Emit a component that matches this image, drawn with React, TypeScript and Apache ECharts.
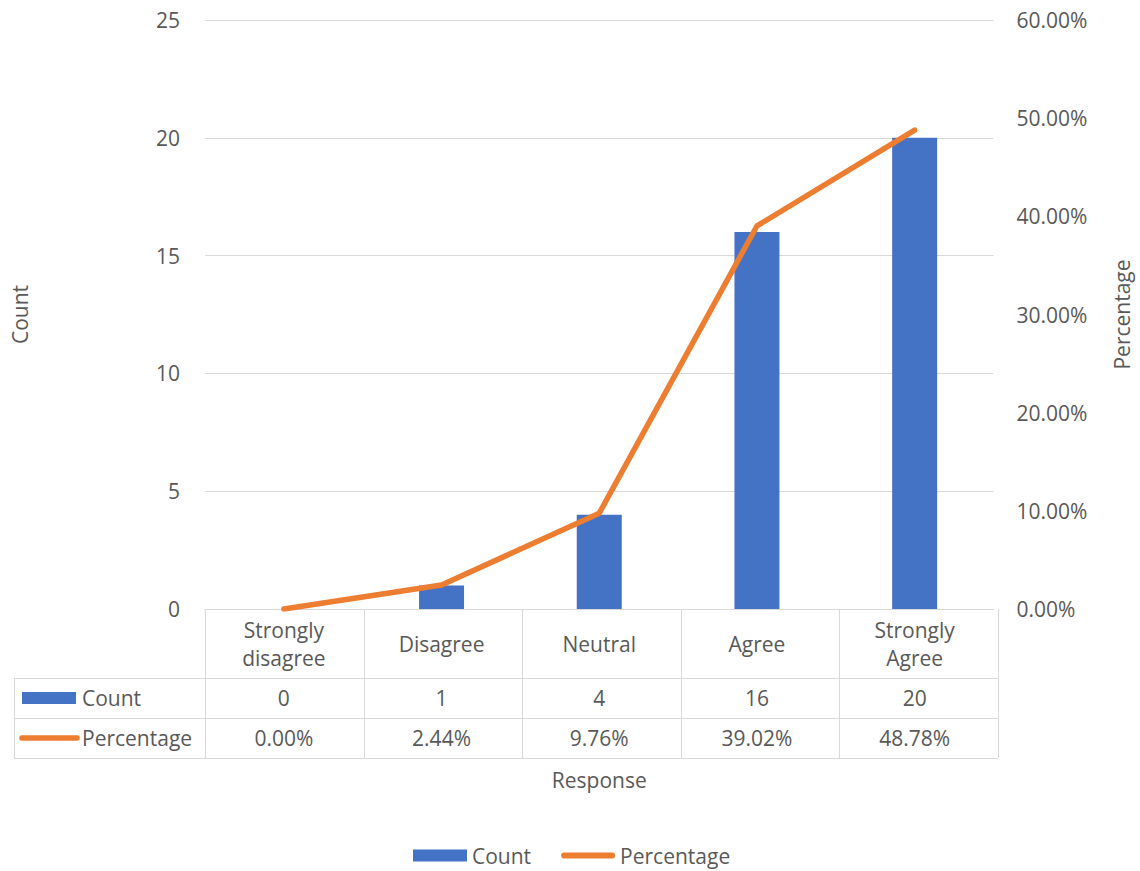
import React, { useEffect, useRef } from "react";
import * as echarts from "echarts";

// Survey responses
const categories = ["Strongly disagree", "Disagree", "Neutral", "Agree", "Strongly Agree"];
const counts = [0, 1, 4, 16, 20];
const percentages = [0.0, 2.44, 9.76, 39.02, 48.78];

const countTicks = { min: 0, max: 25, interval: 5 };
const pctTicks = { min: 0, max: 0.6, interval: 0.1 };

const BLUE = "#4472C4";
const ORANGE = "#ED7D31";
const GRID_LINE = "#d9d9d9";
const TEXT = "#595959";
const FONT = "Open Sans";
const FS = 21;

const W = 1140;
const H = 871;
const PLOT_LEFT = 205;
const PLOT_RIGHT = 998;
const PLOT_TOP = 20;
const PLOT_BOTTOM = 609;
const TABLE_LEFT = 14;
const ROW_COUNT = 678;
const ROW_PCT = 718;
const TABLE_BOTTOM = 758;

// thick line with rounded ends, used as the legend key of the line series
const LINE_KEY = "path://M3,0 L51,0 A3,3 0 0 1 51,6 L3,6 A3,3 0 0 1 3,0 Z";

const wrapLabel = (v: string) => v.replace("Strongly ", "Strongly\n");
const fmtPct = (v: number) => `${v.toFixed(2)}%`;

export default function App() {
  const ref = useRef<HTMLDivElement>(null);

  useEffect(() => {
    document.body.style.margin = "0";
    if (!ref.current) return;
    const chart = echarts.init(ref.current, null, { renderer: "svg" });

    const step = (PLOT_RIGHT - PLOT_LEFT) / categories.length;
    const lineStyle = { stroke: GRID_LINE, lineWidth: 1 };
    const tableLines: any[] = [];
    [ROW_COUNT, ROW_PCT, TABLE_BOTTOM].forEach((y) => {
      tableLines.push({
        type: "line",
        shape: { x1: TABLE_LEFT, y1: y + 0.5, x2: PLOT_RIGHT, y2: y + 0.5 },
        style: lineStyle,
        silent: true,
      });
    });
    tableLines.push({
      type: "line",
      shape: { x1: TABLE_LEFT + 0.5, y1: ROW_COUNT, x2: TABLE_LEFT + 0.5, y2: TABLE_BOTTOM },
      style: lineStyle,
      silent: true,
    });
    for (let k = 0; k <= categories.length; k++) {
      const x = Math.round(PLOT_LEFT + k * step) + 0.5;
      tableLines.push({
        type: "line",
        shape: { x1: x, y1: PLOT_BOTTOM, x2: x, y2: TABLE_BOTTOM },
        style: lineStyle,
        silent: true,
      });
    }

    const rowKeys: any[] = [
      {
        type: "rect",
        shape: { x: 22, y: 692, width: 54, height: 12 },
        style: { fill: BLUE },
        silent: true,
      },
      {
        type: "text",
        x: 82,
        y: (ROW_COUNT + ROW_PCT) / 2,
        style: { text: "Count", fill: TEXT, font: `${FS}px "${FONT}"`, verticalAlign: "middle", align: "left" },
        silent: true,
      },
      {
        type: "line",
        shape: { x1: 22, y1: 738, x2: 77, y2: 738 },
        style: { stroke: ORANGE, lineWidth: 5.5, lineCap: "round" },
        silent: true,
      },
      {
        type: "text",
        x: 82,
        y: (ROW_PCT + TABLE_BOTTOM) / 2,
        style: { text: "Percentage", fill: TEXT, font: `${FS}px "${FONT}"`, verticalAlign: "middle", align: "left" },
        silent: true,
      },
    ];

    const baseLabel = {
      color: TEXT,
      fontFamily: FONT,
      fontSize: FS,
      interval: 0,
      verticalAlign: "middle" as const,
    };

    chart.setOption({
      animation: false,
      textStyle: { fontFamily: FONT, color: TEXT },
      grid: {
        left: PLOT_LEFT,
        right: W - PLOT_RIGHT,
        top: PLOT_TOP,
        bottom: H - PLOT_BOTTOM,
        containLabel: false,
      },
      legend: {
        left: 413,
        top: 845,
        padding: 0,
        itemWidth: 54,
        itemHeight: 12,
        itemGap: 30,
        textStyle: { color: TEXT, fontFamily: FONT, fontSize: FS },
        data: [
          { name: "Count", icon: "rect" },
          { name: "Percentage", icon: LINE_KEY, itemStyle: { color: ORANGE } },
        ],
      },
      xAxis: [
        {
          type: "category",
          data: categories,
          position: "bottom",
          axisLine: { lineStyle: { color: GRID_LINE, width: 1 } },
          axisTick: { show: false },
          axisLabel: { ...baseLabel, margin: 35, lineHeight: 28, formatter: wrapLabel },
          name: "Response",
          nameLocation: "middle",
          nameGap: 171,
          nameTextStyle: { color: TEXT, fontFamily: FONT, fontSize: FS, verticalAlign: "middle" },
        },
        {
          type: "category",
          data: categories,
          position: "bottom",
          axisLine: { show: false },
          axisTick: { show: false },
          axisLabel: { ...baseLabel, margin: 89, formatter: (_v: string, i: number) => String(counts[i]) },
        },
        {
          type: "category",
          data: categories,
          position: "bottom",
          axisLine: { show: false },
          axisTick: { show: false },
          axisLabel: { ...baseLabel, margin: 129, formatter: (_v: string, i: number) => fmtPct(percentages[i]) },
        },
      ],
      yAxis: [
        {
          type: "value",
          ...countTicks,
          position: "left",
          axisLine: { show: false },
          axisTick: { show: false },
          splitLine: { lineStyle: { color: GRID_LINE, width: 1 } },
          axisLabel: { color: TEXT, fontFamily: FONT, fontSize: FS, margin: 25 },
          name: "Count",
          nameLocation: "middle",
          nameRotate: 90,
          nameGap: 185,
          nameTextStyle: { color: TEXT, fontFamily: FONT, fontSize: FS, verticalAlign: "middle" },
        },
        {
          type: "value",
          ...pctTicks,
          position: "right",
          axisLine: { show: false },
          axisTick: { show: false },
          splitLine: { show: false },
          axisLabel: {
            color: TEXT,
            fontFamily: FONT,
            fontSize: FS,
            margin: 23,
            formatter: (v: number) => fmtPct(v * 100),
          },
          name: "Percentage",
          nameLocation: "middle",
          nameRotate: 90,
          nameGap: 128,
          nameTextStyle: { color: TEXT, fontFamily: FONT, fontSize: FS, verticalAlign: "middle" },
        },
      ],
      series: [
        {
          name: "Count",
          type: "bar",
          xAxisIndex: 0,
          yAxisIndex: 0,
          barWidth: 45,
          itemStyle: { color: BLUE },
          data: counts,
        },
        {
          name: "Percentage",
          type: "line",
          xAxisIndex: 0,
          yAxisIndex: 1,
          symbol: "none",
          showSymbol: false,
          itemStyle: { color: ORANGE },
          lineStyle: { color: ORANGE, width: 5.5, cap: "round", join: "round" },
          data: percentages.map((p) => p / 100),
        },
      ],
      graphic: [...tableLines, ...rowKeys],
    });

    return () => chart.dispose();
  }, []);

  return <div ref={ref} style={{ width: W, height: H }} />;
}
